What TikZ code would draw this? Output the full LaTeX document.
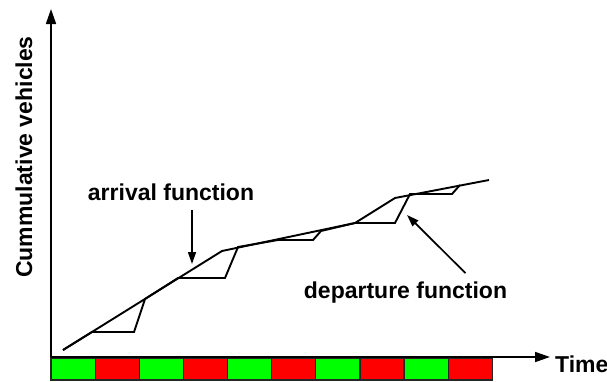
\documentclass[tikz,border=0pt]{standalone}
\usepackage{fontspec}
\setmainfont{Liberation Sans}
\usetikzlibrary{positioning,arrows.meta}
\definecolor{sigGreen}{RGB}{0,255,0}
\definecolor{sigRed}{RGB}{255,0,0}

\begin{document}
\begin{tikzpicture}[x=1pt,y=-1pt,
    lbl/.style={font=\fontsize{23}{27}\selectfont\bfseries, inner sep=0pt},
    axis/.style={line width=1.7pt, -{Triangle[length=15pt,width=10pt]}},
    pointer/.style={line width=1.7pt, -{Triangle[length=12pt,width=8pt]}},
    curve/.style={line width=1.9pt},
    cell/.style={draw=black!85, line width=1.2pt}]
    \useasboundingbox (0,0) rectangle (607,381);

    % signal phases
    \foreach \i/\c in {0/sigGreen,1/sigRed,2/sigGreen,3/sigRed,4/sigGreen,5/sigRed,6/sigGreen,7/sigRed,8/sigGreen,9/sigRed}
        \draw [cell, fill=\c] (51+44.13*\i,358) rectangle (51+44.13*\i+44.13,380);

    % axes
    \coordinate (origin) at (51,357);
    \coordinate (ytop) at (51,9);
    \coordinate (xend) at (550,357);
    \node [lbl, anchor=base west] (timelbl) at (555,372) {Time};
    \node [lbl, rotate=90] (ylbl) at (24,157) {Cummulative vehicles};
    \draw [axis] (origin) -- (ytop);
    \draw [axis] (origin) -- (xend);

    % arrival function
    \draw [curve] (63,350) -- (222,251) -- (355,223) -- (395,198) -- (489,180);

    % departure function
    \draw [curve] (63,350) -- (92,332) -- (134,332) -- (145,299) -- (178,278)
        -- (225,278) -- (238,247) -- (278,240) -- (313,240) -- (321,231)
        -- (355,223) -- (395,223) -- (410,194) -- (452,194) -- (460,185);

    % labels
    \coordinate (atip) at (192,264);
    \coordinate (dtip) at (407,215);
    \node [lbl, anchor=base] (arrlbl) at (171,200) {arrival function};
    \node [lbl, anchor=base] (deplbl) at (405.5,298) {departure function};
    \draw [pointer] (arrlbl.south -| atip) ++(0,10) -- (atip);
    \draw [pointer] (deplbl.north) ++(60,-8) -- (dtip);
\end{tikzpicture}
\end{document}
